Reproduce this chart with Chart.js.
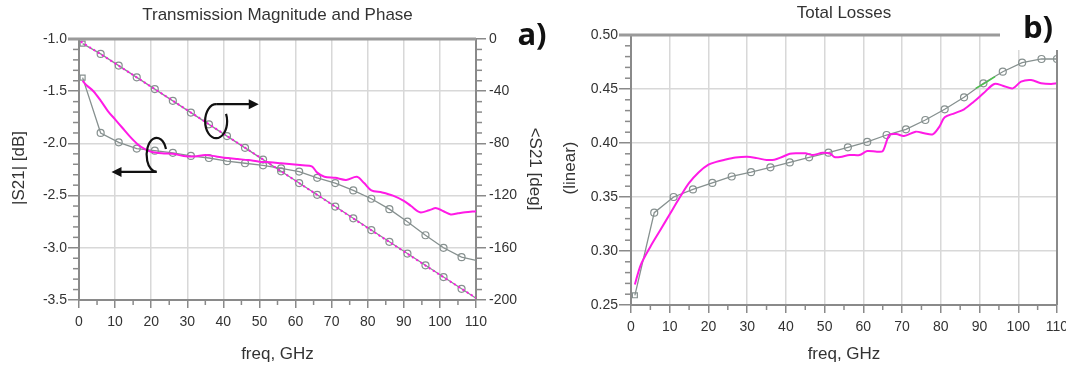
<!DOCTYPE html>
<html>
<head>
<meta charset="utf-8">
<script src="https://cdn.jsdelivr.net/npm/chart.js@4.4.1/dist/chart.umd.min.js"></script>
<style>
  html, body { margin: 0; padding: 0; background: #fff; overflow: hidden; }
  #wrapA { position: absolute; left: 0; top: 0; width: 560px; height: 370px; }
  #wrapB { position: absolute; left: 560px; top: 0; width: 506px; height: 370px; }
</style>
</head>
<body>
<div id="wrapA"><canvas id="chartA"></canvas></div>
<div id="wrapB"><canvas id="chartB"></canvas></div>
<script>
// simulated curves, markers every 5 GHz (last point at 110 GHz)
const freqSim = [1, 6, 11, 16, 21, 26, 31, 36, 41, 46, 51, 56, 61, 66, 71, 76, 81, 86, 91, 96, 101, 106, 110];
const magSim = [-1.37, -1.90, -1.99, -2.05, -2.07, -2.09, -2.12, -2.14, -2.17, -2.19, -2.21, -2.24,
  -2.27, -2.33, -2.38, -2.45, -2.53, -2.63, -2.75, -2.88, -3.00, -3.09, -3.12];
const phaseSim = [-3.5, -11.4, -20.4, -29.4, -38.4, -47.4, -56.4, -65.4, -74.4, -83.4, -92.4, -101.4,
  -110.4, -119.4, -128.4, -137.4, -146.4, -155.4, -164.4, -173.4, -182.4, -191.4, -198.6];
const lossSim = [0.259, 0.3355, 0.350, 0.357, 0.363, 0.369, 0.373, 0.3775, 0.382, 0.3867, 0.391, 0.396,
  0.401, 0.4074, 0.4127, 0.4213, 0.4312, 0.4423, 0.4553, 0.466, 0.4744, 0.4778, 0.4778];

// measured curves
const freqMagMeas = [1, 2, 4, 6, 8, 10, 12, 14, 16, 18, 20, 23, 26, 29, 32, 35, 38, 41, 44, 47, 50, 53, 56, 59,
  62, 64.5, 66, 68, 71, 74, 77, 79, 81, 84, 87, 90, 92, 94.5, 97, 99, 101, 103, 105, 107, 110];
const magMeas = [-1.40, -1.44, -1.50, -1.59, -1.69, -1.77, -1.85, -1.93, -2.00, -2.05, -2.08, -2.095, -2.10,
  -2.12, -2.125, -2.11, -2.125, -2.14, -2.15, -2.16, -2.175, -2.18, -2.19, -2.20, -2.21, -2.22, -2.28,
  -2.32, -2.33, -2.35, -2.32, -2.38, -2.45, -2.47, -2.50, -2.55, -2.60, -2.66, -2.64, -2.62, -2.65,
  -2.68, -2.67, -2.66, -2.65];
const freqPhaseMeas = [0.5, 10, 20, 30, 40, 50, 60, 70, 80, 90, 100, 110];
const phaseMeas = [-2.0, -18.7, -36.6, -54.5, -72.5, -90.5, -108.6, -126.7, -144.8, -162.8, -180.8, -198.4];
const freqLossMeas = [1, 2.5, 5, 7.5, 10, 12.5, 15, 17.5, 20, 22, 24, 27, 30, 32.5, 35, 37, 39, 41, 43, 45, 47,
  49.5, 51.5, 52.5, 54, 56.5, 59, 61, 63.5, 65, 66.7, 68.5, 70.5, 73.5, 75.7, 77.9, 79.6, 81, 83.5, 86,
  88.5, 91, 93.8, 96, 98.6, 100.7, 103.3, 105.9, 108.5, 110];
const lossMeas = [0.269, 0.287, 0.304, 0.319, 0.334, 0.349, 0.363, 0.373, 0.380, 0.3825, 0.3843, 0.3865,
  0.3873, 0.386, 0.3843, 0.3845, 0.387, 0.390, 0.3905, 0.3905, 0.3889, 0.391, 0.390, 0.387, 0.387,
  0.3889, 0.3889, 0.3925, 0.392, 0.3925, 0.4074, 0.4083, 0.4065, 0.4105, 0.409, 0.408, 0.415, 0.4238,
  0.4275, 0.4312, 0.4382, 0.446, 0.4546, 0.4531, 0.4506, 0.4568, 0.4583, 0.4553, 0.4546, 0.4553];
const freqGreen = [89, 91.5, 94];
const lossGreen = [0.4505, 0.4557, 0.4615];

const MAGENTA = '#ff1ae6';
const GRAY = '#86908f';
const AXIS = '#8a8a8a';
const GRID = '#d8d8d8';
const TEXT = '#333';
const FONT = "'Liberation Sans', Arial, sans-serif";

function pts(xs, ys) {
  return xs.map((x, i) => ({ x: x, y: ys[i] }));
}

// markers on every simulated point; optionally skip the last one
function markerSizes(n, skipLast) {
  return Array.from({ length: n }, (_, i) => (skipLast && i === n - 1) ? 0 : 3.5);
}
function markerStyles(n) {
  return Array.from({ length: n }, (_, i) => i === 0 ? 'rect' : 'circle');
}

const decor = {
  id: 'decor',
  afterDraw(chart, args, o) {
    const ctx = chart.ctx;
    const a = chart.chartArea;
    ctx.save();

    // minor ticks
    ctx.strokeStyle = AXIS;
    ctx.lineWidth = 1.5;
    (o.minor || []).forEach(m => {
      const sc = chart.scales[m.id];
      for (let i = 0; ; i++) {
        const v = sc.min + i * m.step;
        if (v > sc.max + 1e-9) break;
        const r = v / m.major;
        if (Math.abs(r - Math.round(r)) < 1e-6) continue;
        const p = sc.getPixelForValue(v);
        ctx.beginPath();
        if (sc.isHorizontal()) { ctx.moveTo(p, a.bottom); ctx.lineTo(p, a.bottom + 5); }
        else if (sc.position === 'left') { ctx.moveTo(a.left, p); ctx.lineTo(a.left - 6, p); }
        else { ctx.moveTo(a.right, p); ctx.lineTo(a.right + 6, p); }
        ctx.stroke();
      }
    });

    // top frame line (and right one if asked)
    ctx.strokeStyle = '#9a9a9a';
    ctx.lineWidth = 3;
    ctx.beginPath();
    ctx.moveTo(a.left - (o.topTick || 0), a.top);
    ctx.lineTo(a.right - (o.topCut || 0), a.top);
    ctx.stroke();
    if (o.rightFrame) {
      ctx.strokeStyle = AXIS;
      ctx.lineWidth = 2;
      ctx.beginPath();
      ctx.moveTo(a.right, a.top);
      ctx.lineTo(a.right, a.bottom);
      ctx.stroke();
    }

    // loop arrows
    ctx.strokeStyle = '#111';
    ctx.fillStyle = '#111';
    ctx.lineWidth = 2.2;
    (o.loops || []).forEach(l => {
      const cx = chart.scales.x.getPixelForValue(l.fx);
      const cy = chart.scales[l.axis].getPixelForValue(l.fy);
      ctx.beginPath();
      ctx.ellipse(cx, cy, l.rx, l.ry, 0, l.a0, l.a1, true);
      ctx.stroke();
      const sx = cx + l.rx * Math.cos(l.tail);
      const sy = cy + l.ry * Math.sin(l.tail);
      const ex = chart.scales.x.getPixelForValue(l.to);
      const dir = ex > sx ? 1 : -1;
      ctx.beginPath();
      ctx.moveTo(sx, sy);
      ctx.lineTo(ex - dir * 6, sy);
      ctx.stroke();
      ctx.beginPath();
      ctx.moveTo(ex, sy);
      ctx.lineTo(ex - dir * 10, sy - 5);
      ctx.lineTo(ex - dir * 10, sy + 5);
      ctx.closePath();
      ctx.fill();
    });

    // texts
    const cx = (a.left + a.right) / 2;
    ctx.fillStyle = TEXT;
    ctx.textAlign = 'center';
    ctx.textBaseline = 'middle';
    ctx.font = '17px ' + FONT;
    ctx.fillText(o.title, cx, o.titleY);
    ctx.fillText('freq, GHz', cx, 354);
    ctx.save();
    ctx.translate(o.yTitleX, 168);
    ctx.rotate(-Math.PI / 2);
    ctx.fillText(o.yTitle, 0, 0);
    ctx.restore();
    if (o.y2Title) {
      ctx.save();
      ctx.translate(o.y2TitleX, 169);
      ctx.rotate(Math.PI / 2);
      ctx.fillText(o.y2Title, 0, 0);
      ctx.restore();
    }
    if (o.tag) {
      if (o.tag.box) {
        ctx.fillStyle = '#fff';
        ctx.fillRect(o.tag.box[0], o.tag.box[1], o.tag.box[2], o.tag.box[3]);
      }
      ctx.fillStyle = '#111';
      ctx.font = "bold 31px 'Open Sans', 'DejaVu Sans', sans-serif";
      ctx.fillText(o.tag.text, o.tag.x, o.tag.y);
    }
    ctx.restore();
  }
};

function xScale(height) {
  return {
    type: 'linear', min: 0, max: 110,
    ticks: { stepSize: 10, padding: 6, color: TEXT, font: { family: FONT, size: 14 }, maxRotation: 0, autoSkip: false },
    grid: { color: GRID, lineWidth: 1.5, tickLength: 8, tickColor: AXIS, tickWidth: 1.5 },
    border: { color: AXIS, width: 2 },
    afterFit: s => { s.height = height; s.paddingLeft = 0; s.paddingRight = 0; }
  };
}

function yScale(pos, min, max, step, digits, width, tickLen, pad, gridOn) {
  return {
    type: 'linear', position: pos, min: min, max: max,
    ticks: { stepSize: step, padding: pad, color: TEXT, font: { family: FONT, size: 14 },
      callback: v => Number(v).toFixed(digits) },
    grid: { color: GRID, lineWidth: 1.5, tickLength: tickLen, tickColor: AXIS, tickWidth: 1.5, drawOnChartArea: gridOn },
    border: { color: AXIS, width: 2 },
    afterFit: s => { s.width = width; }
  };
}

new Chart(document.getElementById('chartA'), {
  type: 'line',
  data: {
    datasets: [
      { data: pts(freqPhaseMeas, phaseMeas), yAxisID: 'y2', borderColor: MAGENTA, borderWidth: 2,
        borderDash: [2, 3], pointRadius: 0, tension: 0 },
      { data: pts(freqMagMeas, magMeas), yAxisID: 'y', borderColor: MAGENTA, borderWidth: 2,
        pointRadius: 0, tension: 0.3 },
      { data: pts(freqSim, phaseSim), yAxisID: 'y2', borderColor: GRAY, borderWidth: 1.3,
        pointRadius: markerSizes(freqSim.length, true), pointStyle: markerStyles(freqSim.length),
        pointBorderColor: GRAY, pointBackgroundColor: 'rgba(255,255,255,0)', pointBorderWidth: 1.2, tension: 0 },
      { data: pts(freqSim, magSim), yAxisID: 'y', borderColor: GRAY, borderWidth: 1.3,
        pointRadius: markerSizes(freqSim.length, true), pointStyle: markerStyles(freqSim.length),
        pointBorderColor: GRAY, pointBackgroundColor: 'rgba(255,255,255,0)', pointBorderWidth: 1.2, tension: 0 }
    ]
  },
  options: {
    responsive: true,
    maintainAspectRatio: false,
    animation: false,
    layout: { padding: { left: 0, right: 0, top: 39, bottom: 0 }, autoPadding: false },
    plugins: {
      legend: { display: false },
      tooltip: { enabled: false },
      decor: {
        title: 'Transmission Magnitude and Phase', titleY: 15,
        yTitle: '|S21| [dB]', yTitleX: 19,
        y2Title: '<S21 [deg]', y2TitleX: 535,
        topTick: 11,
        tag: { text: 'a)', x: 532, y: 36 },
        minor: [
          { id: 'x', step: 5, major: 10 },
          { id: 'y', step: 0.1, major: 0.5 },
          { id: 'y2', step: 8, major: 40 }
        ],
        loops: [
          { axis: 'y2', fx: 38, fy: -63, rx: 11, ry: 17, a0: -Math.PI / 2, a1: -0.45, tail: -Math.PI / 2, to: 49.8 },
          { axis: 'y', fx: 21.5, fy: -2.11, rx: 10, ry: 17, a0: -0.35, a1: Math.PI / 2, tail: Math.PI / 2, to: 9 }
        ]
      }
    },
    scales: {
      x: xScale(70),
      y: yScale('left', -3.5, -1.0, 0.5, 1, 79, 11, 1, true),
      y2: yScale('right', -200, 0, 40, 0, 84, 10, 3, false)
    }
  },
  plugins: [decor]
});

new Chart(document.getElementById('chartB'), {
  type: 'line',
  data: {
    datasets: [
      { data: pts(freqGreen, lossGreen), borderColor: '#4cc34c', borderWidth: 1.5, pointRadius: 0, tension: 0 },
      { data: pts(freqLossMeas, lossMeas), borderColor: MAGENTA, borderWidth: 2, pointRadius: 0, tension: 0.3 },
      { data: pts(freqSim, lossSim), borderColor: GRAY, borderWidth: 1.3,
        pointRadius: markerSizes(freqSim.length, false), pointStyle: markerStyles(freqSim.length),
        pointBorderColor: GRAY, pointBackgroundColor: 'rgba(255,255,255,0)', pointBorderWidth: 1.2, tension: 0 }
    ]
  },
  options: {
    responsive: true,
    maintainAspectRatio: false,
    animation: false,
    layout: { padding: { left: 0, right: 9, top: 35, bottom: 0 }, autoPadding: false },
    plugins: {
      legend: { display: false },
      tooltip: { enabled: false },
      decor: {
        title: 'Total Losses', titleY: 13,
        yTitle: '(linear)', yTitleX: 10,
        topTick: 12, topCut: 56, rightFrame: true,
        tag: { text: 'b)', x: 478, y: 29, box: [440, 0, 66, 50] },
        minor: [
          { id: 'x', step: 5, major: 10 },
          { id: 'y', step: 0.01, major: 0.05 }
        ]
      }
    },
    scales: {
      x: xScale(65),
      y: yScale('left', 0.25, 0.50, 0.05, 2, 71, 12, 1, true)
    }
  },
  plugins: [decor]
});
</script>
</body>
</html>
